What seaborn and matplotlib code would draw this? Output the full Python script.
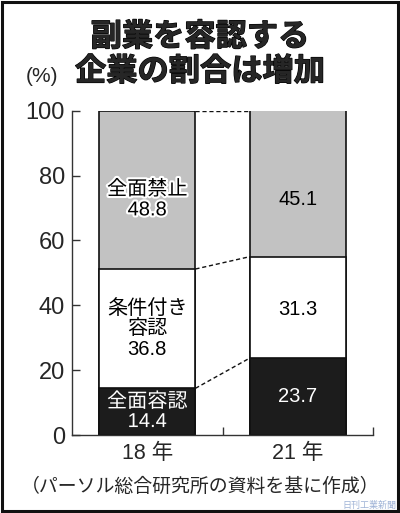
import matplotlib
matplotlib.use("Agg")
import matplotlib.pyplot as plt
import matplotlib.patheffects as pe
from matplotlib.ticker import FixedLocator
import numpy as np
import pandas as pd
import seaborn as sns

# data (percent)
years = ["18 年", "21 年"]
ban = [48.8, 45.1]          # 全面禁止
conditional = [36.8, 31.3]  # 条件付き容認
full_ok = [14.4, 23.7]      # 全面容認

sns.set_theme(style="white")
plt.rcParams["font.family"] = ["Liberation Sans", "Noto Sans CJK JP", "DejaVu Sans"]

df = pd.DataFrame({"year": years, "ban": ban, "cond": conditional, "full": full_ok})
df["lvl1"] = df["full"]
df["lvl2"] = df["full"] + df["cond"]
df["lvl3"] = df["lvl2"] + df["ban"]

fig = plt.figure(figsize=(4.0, 5.13), dpi=100)
ax = fig.add_axes([0.18, 0.152, 0.7525, 0.632])

w = 0.64
# stacked bars drawn from the total down
sns.barplot(data=df, x="year", y="lvl3", color="#c2c2c2", width=w, edgecolor="#111111",
            linewidth=1.2, saturation=1, ax=ax)
sns.barplot(data=df, x="year", y="lvl2", color="white", width=w, edgecolor="#111111",
            linewidth=1.2, saturation=1, ax=ax)
sns.barplot(data=df, x="year", y="lvl1", color="#1c1c1c", width=w, edgecolor="#111111",
            linewidth=1.2, saturation=1, ax=ax)

# dashed connectors between bars
for col in ["lvl3", "lvl2", "lvl1"]:
    ax.plot([0 + w / 2, 1 - w / 2], [min(df[col][0], 100), min(df[col][1], 100)],
            ls=(0, (3, 2)), color="#111111", lw=1.0)

# segment labels
fs = 14.5
white_stroke = [pe.withStroke(linewidth=3, foreground="white")]
dark_stroke = [pe.withStroke(linewidth=2, foreground="#1c1c1c")]
ax.text(0, (df["lvl2"][0] + 100) / 2 - 3, f"全面禁止\n{ban[0]}", ha="center", va="center",
        fontsize=fs, color="black", linespacing=1.1, path_effects=white_stroke)
ax.text(0, (df["lvl1"][0] + df["lvl2"][0]) / 2, f"条件付き\n容認\n{conditional[0]}",
        ha="center", va="center", fontsize=fs, color="black", linespacing=1.1)
ax.text(0, df["lvl1"][0] / 2, f"全面容認\n{full_ok[0]}", ha="center", va="center",
        fontsize=fs, color="white", linespacing=1.05, path_effects=dark_stroke)
ax.text(1, (df["lvl2"][1] + 100) / 2 - 5, f"{ban[1]}", ha="center", va="center",
        fontsize=fs, color="black")
ax.text(1, (df["lvl1"][1] + df["lvl2"][1]) / 2 - 0.5, f"{conditional[1]}", ha="center",
        va="center", fontsize=fs, color="black")
ax.text(1, df["lvl1"][1] / 2, f"{full_ok[1]}", ha="center", va="center",
        fontsize=fs, color="white")

ax.set_xlim(-0.5, 1.5)
ax.set_ylim(0, 100)
ax.set_yticks([0, 20, 40, 60, 80, 100])
ax.set_xlabel("")
ax.set_ylabel("")
ax.xaxis.set_minor_locator(FixedLocator([0.5, 1.5]))
ax.tick_params(axis="y", which="major", direction="in", length=6, width=1,
               color="#333333", labelsize=17, pad=5, left=True)
ax.tick_params(axis="x", which="major", length=0, labelsize=15.5, pad=6)
ax.tick_params(axis="x", which="minor", direction="in", length=6, width=1,
               color="#333333", bottom=True)
sns.despine(ax=ax)
for s in ["left", "bottom"]:
    ax.spines[s].set_color("#333333")
    ax.spines[s].set_linewidth(1.0)
ax.set_facecolor("white")

# titles and notes (thin stroke to thicken the gothic face)
heavy = [pe.withStroke(linewidth=0.9, foreground="black")]
fig.text(0.5, 0.926, "副業を容認する", ha="center", va="center", fontsize=22.5,
         fontweight="bold", path_effects=heavy)
fig.text(0.5, 0.859, "企業の割合は増加", ha="center", va="center", fontsize=22.5,
         fontweight="bold", path_effects=heavy)
fig.text(0.105, 0.85, "(%)", ha="center", va="center", fontsize=15)
fig.text(0.5, 0.051, "（パーソル総合研究所の資料を基に作成）", ha="center", va="center",
         fontsize=13.6)
fig.text(0.99, 0.014, "日刊工業新聞", ha="right", va="center", fontsize=6.5,
         color="#9fb3d6")

# outer frame
fig.patches.append(plt.Rectangle((0.004, 0.003), 0.992, 0.994, transform=fig.transFigure,
                                 fill=False, edgecolor="#111111", linewidth=2.2))

fig.savefig("out.png", dpi=100, facecolor="white")
